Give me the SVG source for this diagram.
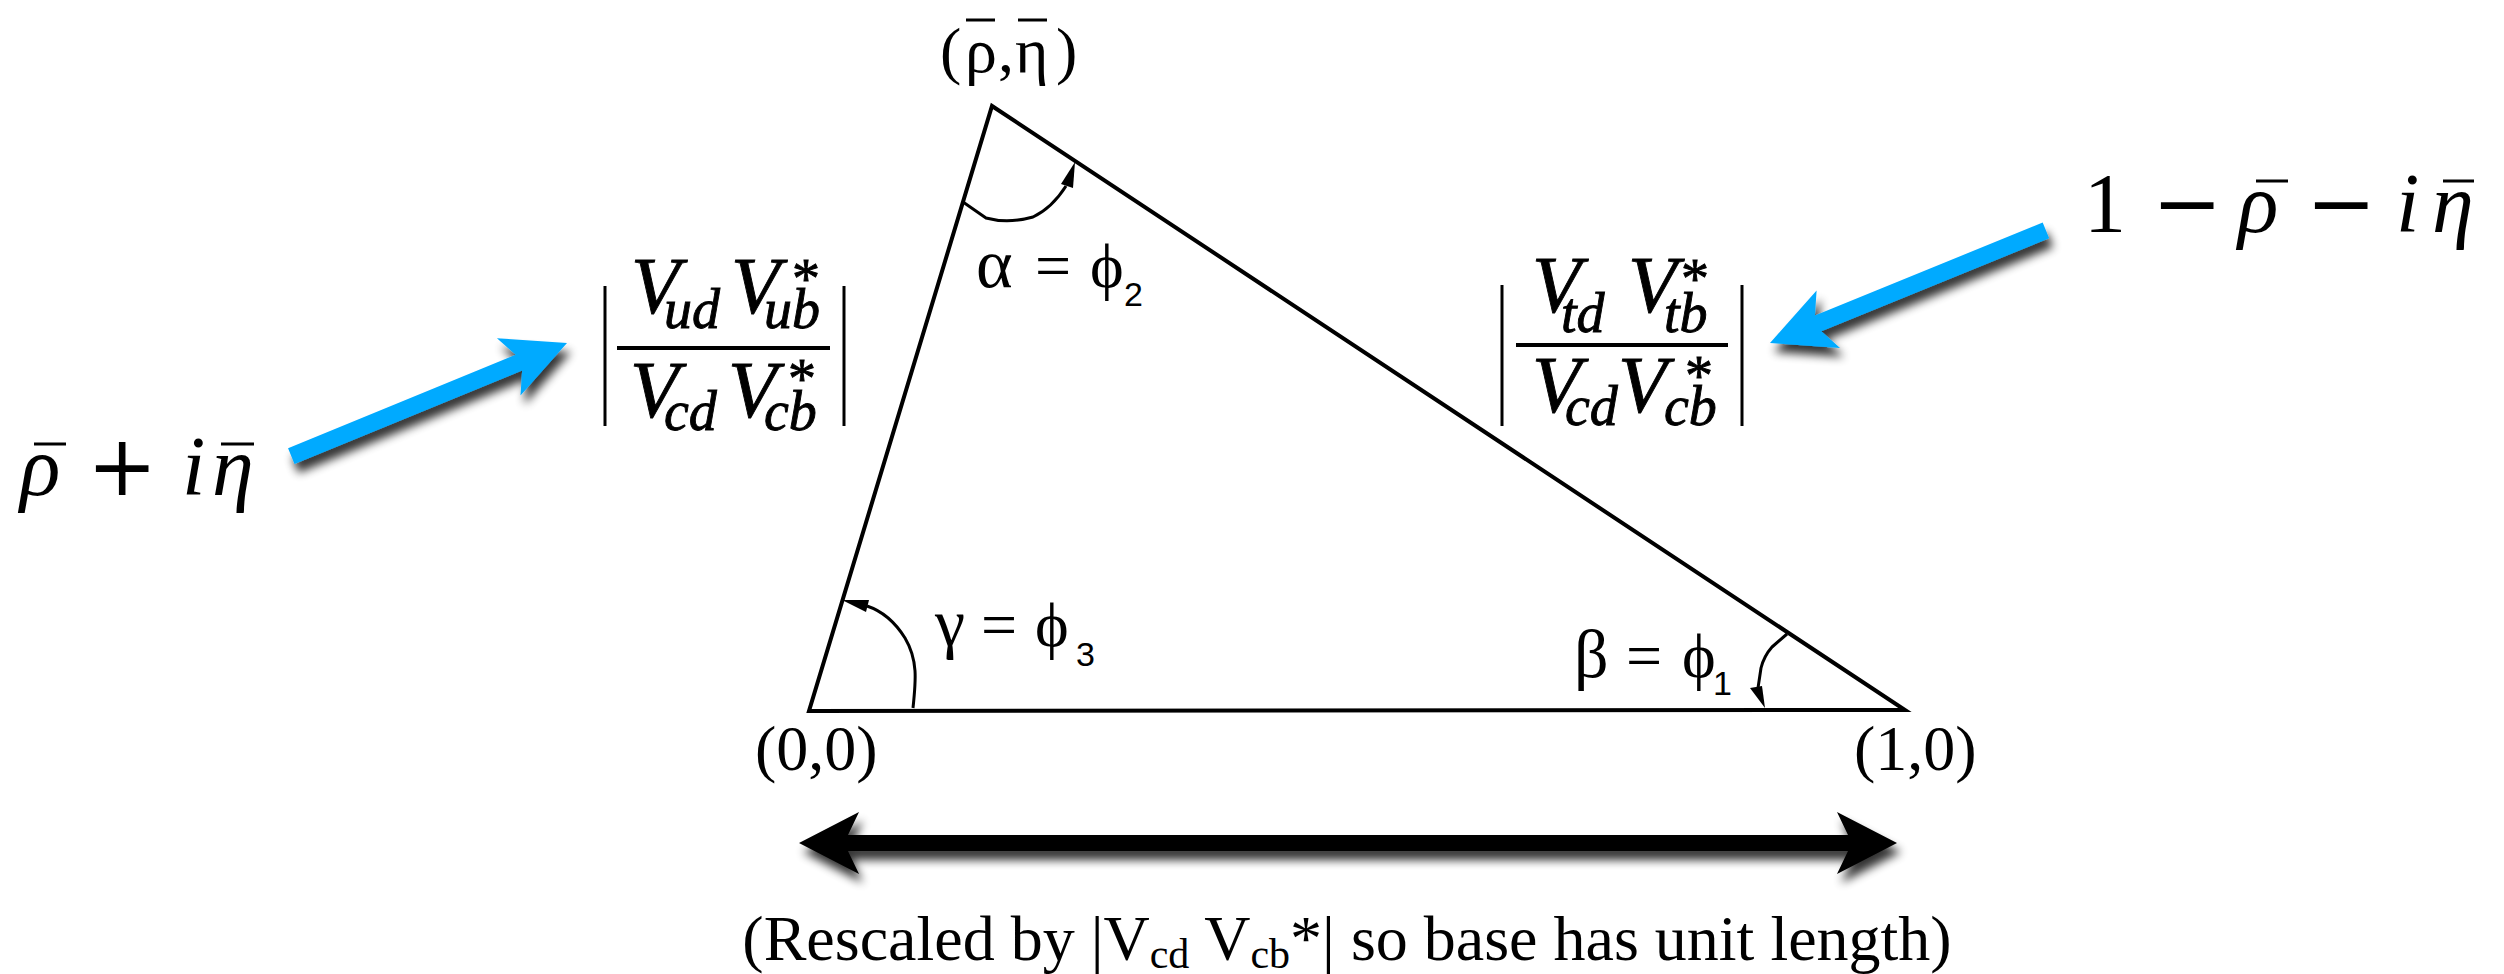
<svg xmlns="http://www.w3.org/2000/svg" width="2504" height="974" viewBox="0 0 2504 974">
<style>
.t{font-family:"Liberation Serif","DejaVu Serif",serif;fill:#000}
.it{font-family:"Liberation Serif","DejaVu Serif",serif;font-style:italic;fill:#000}
.fr{stroke:#000;stroke-width:0.9}
.op{font-family:"DejaVu Serif","Liberation Serif",serif;fill:#000}
.sub{font-family:"Liberation Sans","DejaVu Sans",sans-serif;fill:#000}
.edge{stroke:#000;stroke-width:4;fill:none;stroke-linejoin:miter}
.arc{stroke:#000;stroke-width:3;fill:none;stroke-linejoin:round}
.bar{stroke:#000;stroke-width:3;fill:none}
.blue{fill:#00AAFF}
</style>
<defs>
<filter id="sh" x="-20%" y="-50%" width="140%" height="200%">
<feGaussianBlur in="SourceAlpha" stdDeviation="5"/>
<feOffset dx="4" dy="9"/>
<feComponentTransfer><feFuncA type="linear" slope="0.8"/></feComponentTransfer>
<feMerge><feMergeNode/><feMergeNode in="SourceGraphic"/></feMerge>
</filter>
<polygon id="bluearrow" points="0,0 -63,-31 -52,-8.5 -298,-8.5 -298,8.5 -52,8.5 -63,31"/>
</defs>
<rect width="2504" height="974" fill="#fff"/>

<g id="triangle">
<polygon class="edge" points="809,711 1905,710 992,106"/>
</g>

<g id="vertex-apex">
<text class="t" font-size="64" y="72"><tspan x="940">(</tspan><tspan x="965">ρ</tspan><tspan x="998">,</tspan><tspan x="1015">η</tspan><tspan x="1056">)</tspan></text>
<line class="bar" x1="966" y1="20" x2="995" y2="20"/>
<line class="bar" x1="1018" y1="20" x2="1047" y2="20"/>
</g>

<g id="vertex-origin">
<text class="t" font-size="64" x="755" y="770">(0,0)</text>
</g>

<g id="vertex-one">
<text class="t" font-size="64" x="1854" y="770">(1,0)</text>
</g>

<g id="angle-alpha">
<path class="arc" d="M963,202 L986,218 Q1008,224 1033,217 Q1052,208 1066,186"/>
<polygon points="1075,162 1061,184 1073,188"/>
<text class="t" font-size="64" y="287"><tspan x="976" font-size="70">α</tspan><tspan x="1035">=</tspan><tspan x="1090">ϕ</tspan></text>
<text class="sub" font-size="34" x="1124" y="306">2</text>
</g>

<g id="angle-gamma">
<path class="arc" d="M913,708 C916,680 918,660 905,638 C895,622 882,611 867,606"/>
<polygon points="842,600 869,600 866,612"/>
<text class="t" font-size="64" y="646"><tspan x="935" font-size="68">γ</tspan><tspan x="981">=</tspan><tspan x="1035">ϕ</tspan></text>
<text class="sub" font-size="34" x="1076" y="666">3</text>
</g>

<g id="angle-beta">
<path class="arc" d="M1787,634 L1772,647 Q1764,656 1761,668 L1758,688"/>
<polygon points="1765,708 1750,688 1762,686"/>
<text class="t" font-size="64" y="677"><tspan x="1574" font-size="68">β</tspan><tspan x="1626">=</tspan><tspan x="1682">ϕ</tspan></text>
<text class="sub" font-size="34" x="1713" y="695">1</text>
</g>

<g id="side-left">
<line class="bar" x1="605" y1="286" x2="605" y2="426"/>
<line class="bar" x1="844" y1="286" x2="844" y2="426"/>
<line class="edge" x1="617" y1="348" x2="830" y2="348"/>
<g class="fr">
<text class="it" font-size="80" x="631" y="313">V</text>
<text class="it" font-size="56" x="664" y="328">ud</text>
<text class="it" font-size="80" x="731" y="313">V</text>
<text class="it" font-size="56" x="764" y="328">ub</text>
<text class="t" font-size="56" x="792" y="298">*</text>
<text class="it" font-size="80" x="630" y="417">V</text>
<text class="it" font-size="56" x="664" y="430">cd</text>
<text class="it" font-size="80" x="728" y="417">V</text>
<text class="it" font-size="56" x="764" y="430">cb</text>
<text class="t" font-size="56" x="788" y="398">*</text>
</g>
</g>

<g id="side-right">
<line class="bar" x1="1502" y1="285" x2="1502" y2="426"/>
<line class="bar" x1="1742" y1="285" x2="1742" y2="426"/>
<line class="edge" x1="1516" y1="345" x2="1728" y2="345"/>
<g class="fr">
<text class="it" font-size="80" x="1532" y="312">V</text>
<text class="it" font-size="56" x="1561" y="332">td</text>
<text class="it" font-size="80" x="1628" y="312">V</text>
<text class="it" font-size="56" x="1664" y="332">tb</text>
<text class="t" font-size="56" x="1681" y="298">*</text>
<text class="it" font-size="80" x="1532" y="412">V</text>
<text class="it" font-size="56" x="1565" y="425">cd</text>
<text class="it" font-size="80" x="1618" y="412">V</text>
<text class="it" font-size="56" x="1664" y="425">cb</text>
<text class="t" font-size="56" x="1685" y="395">*</text>
</g>
</g>

<g id="label-left">
<text class="it" font-size="84" x="20" y="495">ρ</text>
<text class="op" font-size="84" x="87" y="495">+</text>
<text class="it" font-size="84" x="182" y="495">i</text>
<text class="it" font-size="84" x="212" y="495">η</text>
<line class="bar" x1="34" y1="444" x2="66" y2="444"/>
<line class="bar" x1="221" y1="444" x2="254" y2="444"/>
</g>

<g id="label-right">
<text class="t" font-size="84" x="2084" y="232">1</text>
<text class="op" font-size="84" x="2152" y="232">−</text>
<text class="it" font-size="84" x="2238" y="232">ρ</text>
<text class="op" font-size="84" x="2306" y="232">−</text>
<text class="it" font-size="84" x="2396" y="232">i</text>
<text class="it" font-size="84" x="2432" y="232">η</text>
<line class="bar" x1="2256" y1="181" x2="2288" y2="181"/>
<line class="bar" x1="2443" y1="181" x2="2474" y2="181"/>
</g>

<g id="connectors">
<g filter="url(#sh)"><use href="#bluearrow" class="blue" transform="translate(567,343) rotate(-22.3)"/></g>
<g filter="url(#sh)"><use href="#bluearrow" class="blue" transform="translate(1770,343) rotate(157.8)"/></g>
<g filter="url(#sh)"><polygon fill="#000" points="799,843 859,812 848,835 1848,835 1837,812 1897,843 1837,874 1848,851 848,851 859,874"/></g>
</g>

<g id="caption">
<text class="t" font-size="64" x="1347" y="960" text-anchor="middle">(Rescaled by |V<tspan font-size="42" dy="8">cd</tspan><tspan dy="-8"> V</tspan><tspan font-size="42" dy="8">cb</tspan><tspan dy="-8">*| so base has unit length)</tspan></text>
</g>
</svg>
